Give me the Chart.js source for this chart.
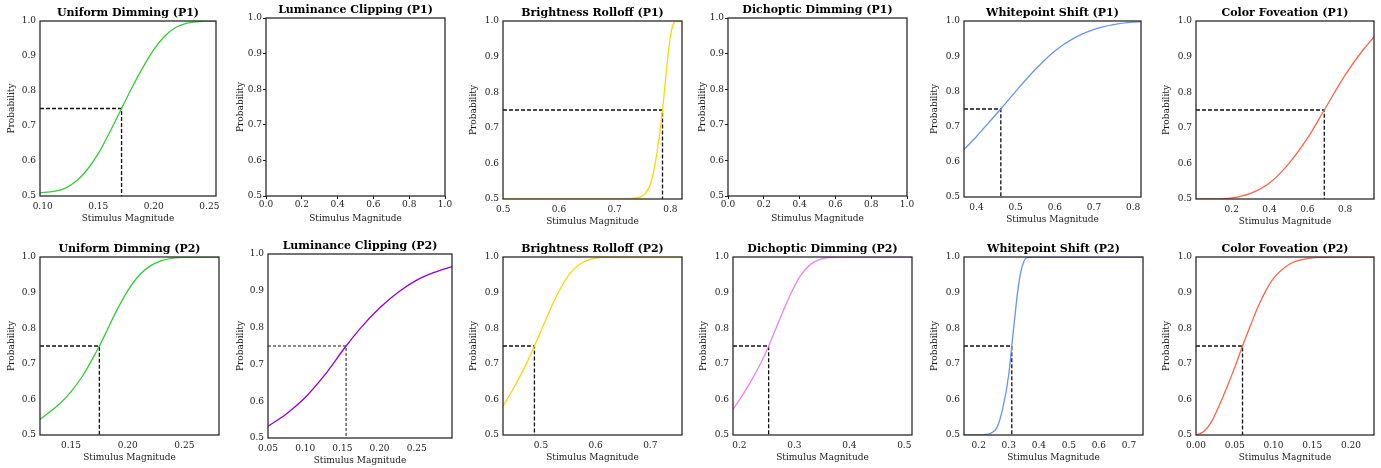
<!DOCTYPE html>
<html>
<head>
<meta charset="utf-8">
<script src="https://cdn.jsdelivr.net/npm/chart.js@4.4.1/dist/chart.umd.min.js"></script>
<style>
  html, body { margin: 0; padding: 0; background: #ffffff; }
  body { width: 1381px; height: 468px; position: relative; overflow: hidden; }
  .panel { position: absolute; }
</style>
</head>
<body>
<script>
// ---- psychometric fits per condition ----
const panelTitles = [
  'Uniform Dimming (P1)', 'Luminance Clipping (P1)', 'Brightness Rolloff (P1)',
  'Dichoptic Dimming (P1)', 'Whitepoint Shift (P1)', 'Color Foveation (P1)',
  'Uniform Dimming (P2)', 'Luminance Clipping (P2)', 'Brightness Rolloff (P2)',
  'Dichoptic Dimming (P2)', 'Whitepoint Shift (P2)', 'Color Foveation (P2)'
];

const uniformP1X = [0.0976, 0.11, 0.12, 0.13, 0.14, 0.15, 0.16, 0.171, 0.18, 0.19, 0.20, 0.21, 0.22, 0.23, 0.24, 0.256];
const uniformP1Y = [0.509, 0.513, 0.522, 0.542, 0.575, 0.621, 0.680, 0.750, 0.807, 0.866, 0.918, 0.957, 0.982, 0.994, 0.998, 1.000];

const rolloffP1X = [0.4995, 0.70, 0.73, 0.745, 0.755, 0.765, 0.775, 0.786, 0.793, 0.80, 0.805, 0.81, 0.821];
const rolloffP1Y = [0.500, 0.500, 0.501, 0.505, 0.515, 0.545, 0.620, 0.750, 0.860, 0.955, 0.990, 1.000, 1.000];

const whiteP1X = [0.368, 0.40, 0.43, 0.462, 0.50, 0.55, 0.60, 0.65, 0.70, 0.75, 0.80, 0.82];
const whiteP1Y = [0.635, 0.672, 0.710, 0.750, 0.800, 0.862, 0.915, 0.952, 0.976, 0.990, 0.997, 0.998];

const colorP1X = [0.011, 0.10, 0.20, 0.30, 0.40, 0.50, 0.60, 0.69, 0.80, 0.90, 0.953];
const colorP1Y = [0.500, 0.500, 0.503, 0.516, 0.545, 0.598, 0.670, 0.750, 0.848, 0.922, 0.955];

const uniformP2X = [0.1226, 0.13, 0.14, 0.15, 0.16, 0.17, 0.175, 0.18, 0.19, 0.20, 0.21, 0.22, 0.23, 0.24, 0.25, 0.2806];
const uniformP2Y = [0.544, 0.562, 0.588, 0.622, 0.665, 0.720, 0.750, 0.782, 0.848, 0.905, 0.948, 0.975, 0.990, 0.997, 0.999, 1.000];

const clippingP2X = [0.05, 0.075, 0.10, 0.125, 0.155, 0.175, 0.20, 0.225, 0.25, 0.275, 0.2974];
const clippingP2Y = [0.532, 0.566, 0.610, 0.668, 0.750, 0.800, 0.853, 0.896, 0.929, 0.951, 0.966];

const rolloffP2X = [0.4305, 0.45, 0.47, 0.488, 0.50, 0.525, 0.55, 0.575, 0.60, 0.625, 0.758];
const rolloffP2Y = [0.581, 0.632, 0.690, 0.750, 0.792, 0.880, 0.948, 0.984, 0.997, 1.000, 1.000];

const dichopticP2X = [0.1885, 0.20, 0.22, 0.24, 0.2533, 0.27, 0.29, 0.31, 0.33, 0.35, 0.38, 0.514];
const dichopticP2Y = [0.572, 0.598, 0.648, 0.705, 0.750, 0.812, 0.885, 0.945, 0.980, 0.995, 1.000, 1.000];

const whiteP2X = [0.151, 0.20, 0.22, 0.24, 0.26, 0.28, 0.30, 0.31, 0.32, 0.33, 0.34, 0.35, 0.36, 0.38, 0.7466];
const whiteP2Y = [0.500, 0.500, 0.501, 0.505, 0.520, 0.575, 0.670, 0.750, 0.830, 0.905, 0.958, 0.987, 0.998, 1.000, 1.000];

const colorP2X = [0.0, 0.01, 0.02, 0.03, 0.04, 0.05, 0.06, 0.07, 0.08, 0.09, 0.10, 0.12, 0.14, 0.16, 0.18, 0.2296];
const colorP2Y = [0.500, 0.510, 0.537, 0.583, 0.635, 0.690, 0.750, 0.806, 0.860, 0.905, 0.940, 0.979, 0.994, 0.999, 1.000, 1.000];

// 75% thresholds (null where no fit exists)
const thresholds = [0.171, null, 0.786, null, 0.462, 0.69, 0.175, 0.155, 0.488, 0.2533, 0.31, 0.06];

// x-axis ranges
const xMins = [0.0976, 0, 0.4995, 0, 0.368, 0.011, 0.1226, 0.05, 0.4305, 0.1885, 0.151, 0.0];
const xMaxs = [0.256, 1, 0.821, 1, 0.82, 0.953, 0.2806, 0.2974, 0.758, 0.514, 0.7466, 0.2296];

// tick labels
const xTickLabels = [
  ['0.10', '0.15', '0.20', '0.25'],
  ['0.0', '0.2', '0.4', '0.6', '0.8', '1.0'],
  ['0.5', '0.6', '0.7', '0.8'],
  ['0.0', '0.2', '0.4', '0.6', '0.8', '1.0'],
  ['0.4', '0.5', '0.6', '0.7', '0.8'],
  ['0.2', '0.4', '0.6', '0.8'],
  ['0.15', '0.20', '0.25'],
  ['0.05', '0.10', '0.15', '0.20', '0.25'],
  ['0.5', '0.6', '0.7'],
  ['0.2', '0.3', '0.4', '0.5'],
  ['0.2', '0.3', '0.4', '0.5', '0.6', '0.7'],
  ['0.00', '0.05', '0.10', '0.15', '0.20']
];
const yTickLabels = ['0.5', '0.6', '0.7', '0.8', '0.9', '1.0'];

// ---- drawing ----
const curveX = [uniformP1X, null, rolloffP1X, null, whiteP1X, colorP1X,
                uniformP2X, clippingP2X, rolloffP2X, dichopticP2X, whiteP2X, colorP2X];
const curveY = [uniformP1Y, null, rolloffP1Y, null, whiteP1Y, colorP1Y,
                uniformP2Y, clippingP2Y, rolloffP2Y, dichopticP2Y, whiteP2Y, colorP2Y];
const conditionColors = ['#32CD32', '#9400D3', '#FFD700', '#EE82EE', '#6495ED', '#FF6347'];

// plot rectangles [left, top, right, bottom] and y-title distance from the axis
const frames = [
  [40, 21, 216, 196, 28.5], [266, 18, 445, 196, 25], [503, 21, 682, 199, 29.5],
  [728, 18, 907, 196, 25.5], [964, 21, 1141, 197, 29.5], [1196, 21, 1374, 199, 29],
  [40, 257, 219, 435, 28.5], [268, 254, 452, 438, 27], [503, 257, 682, 435, 29.5],
  [733, 257, 912, 435, 29.5], [964, 257, 1143, 435, 29.5], [1196, 257, 1374, 435, 29]
];

const AXIS_W = 40, AXIS_H = 30, TITLE_H = 15, RIGHT_PAD = 14;
const FAMILY = "'DejaVu Serif', serif";
const TITLE_SIZE = 11, TICK_SIZE = 9, LABEL_SIZE = 9;
const tickFont = { family: FAMILY, size: TICK_SIZE };
const labelFont = { family: FAMILY, size: LABEL_SIZE, lineHeight: 1.2 };
const ink = '#1a1a1a';

const framePlugin = {
  id: 'frameBox',
  afterDraw(chart) {
    const a = chart.chartArea, ctx = chart.ctx;
    ctx.save();
    ctx.strokeStyle = '#2a2a2a';
    ctx.lineWidth = 1.3;
    ctx.strokeRect(a.left, a.top, a.right - a.left, a.bottom - a.top);
    ctx.restore();
  }
};

panelTitles.forEach((title, i) => {
  const [L, T, R, B, yGap] = frames[i];
  const empty = curveX[i] === null;
  const div = document.createElement('div');
  div.className = 'panel';
  div.style.left = (L - AXIS_W) + 'px';
  div.style.top = (T - TITLE_H) + 'px';
  div.style.width = (R - L + AXIS_W + RIGHT_PAD) + 'px';
  div.style.height = (B - T + TITLE_H + AXIS_H) + 'px';
  const canvas = document.createElement('canvas');
  div.appendChild(canvas);
  document.body.appendChild(div);

  const datasets = [];
  if (!empty) {
    datasets.push({
      data: curveX[i].map((x, k) => ({ x: x, y: curveY[i][k] })),
      borderColor: conditionColors[i % 6],
      borderWidth: 1.3,
      pointRadius: 0,
      fill: false,
      cubicInterpolationMode: 'monotone'
    });
    const t = thresholds[i];
    datasets.push({
      data: [{ x: xMins[i], y: 0.75 }, { x: t, y: 0.75 }, { x: t, y: 0.5 }],
      borderColor: '#111',
      borderWidth: i === 7 ? 1.0 : 1.3,
      borderDash: i === 7 ? [3, 2] : [4, 2],
      pointRadius: 0,
      fill: false,
      tension: 0
    });
  }

  const labelLH = LABEL_SIZE * 1.2;
  const labelPad = AXIS_W - labelLH / 2 - yGap; // rotated title centre sits yGap px left of the axis
  const titleLH = TITLE_SIZE * 1.2;

  new Chart(canvas, {
    type: 'line',
    data: { datasets },
    options: {
      responsive: true,
      maintainAspectRatio: false,
      animation: false,
      events: [],
      layout: { padding: { left: 0, right: RIGHT_PAD, top: 0, bottom: 0 } },
      plugins: {
        legend: { display: false },
        tooltip: { enabled: false },
        title: {
          display: true,
          fullSize: false,
          align: 'center',
          text: title,
          color: '#000',
          font: { family: FAMILY, size: TITLE_SIZE, weight: 'bold', lineHeight: 1.2 },
          padding: { top: 0.5, bottom: TITLE_H - titleLH - 0.5 }
        }
      },
      scales: {
        x: {
          type: 'linear',
          min: xMins[i],
          max: xMaxs[i],
          afterBuildTicks: s => {
            s.ticks = xTickLabels[i].map(v => ({ value: parseFloat(v) }));
          },
          afterFit: s => { s.height = AXIS_H; },
          ticks: {
            font: tickFont, color: ink, padding: empty ? 0.5 : 5.5,
            maxRotation: 0, autoSkip: false,
            callback: (v, idx) => xTickLabels[i][idx]
          },
          grid: { display: empty, drawOnChartArea: false, drawTicks: empty, tickLength: 3, color: ink, lineWidth: 1 },
          border: { display: false },
          title: { display: true, text: 'Stimulus Magnitude', font: labelFont, color: ink, padding: { top: 0, bottom: 1.5 } }
        },
        y: {
          type: 'linear',
          min: 0.5,
          max: 1.0,
          afterBuildTicks: s => {
            s.ticks = yTickLabels.map(v => ({ value: parseFloat(v) }));
          },
          afterFit: s => { s.width = AXIS_W; },
          ticks: {
            font: tickFont, color: ink, padding: empty ? 1 : 4,
            autoSkip: false,
            callback: (v, idx) => yTickLabels[idx]
          },
          grid: { display: empty, drawOnChartArea: false, drawTicks: empty, tickLength: 3, color: ink, lineWidth: 1 },
          border: { display: false },
          title: { display: true, text: 'Probability', font: labelFont, color: ink, padding: { top: labelPad, bottom: 0 } }
        }
      }
    },
    plugins: [framePlugin]
  });
});
</script>
</body>
</html>
